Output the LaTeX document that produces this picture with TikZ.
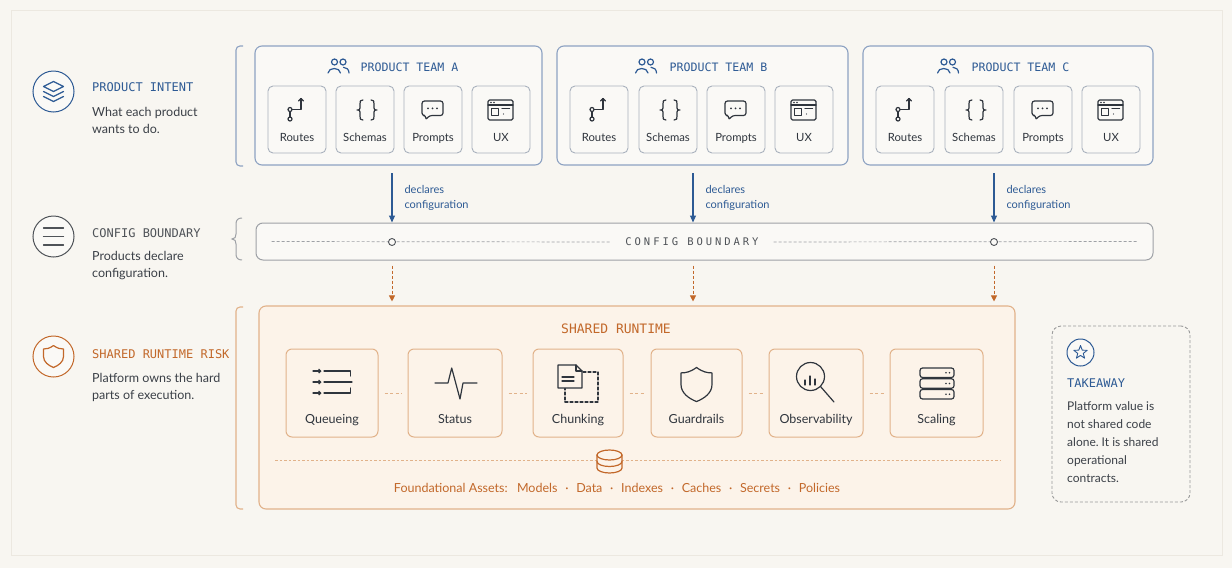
\documentclass[tikz,border=0pt]{standalone}
\usepackage{fontspec}
\setmainfont{Lato}
\newfontfamily\headfont{DejaVu Sans Mono}
\newfontfamily\spacedfont[LetterSpace=28]{DejaVu Sans Mono}
\usepackage{tikz}
\usetikzlibrary{positioning,arrows.meta,shapes.geometric}
\frenchspacing

\definecolor{paper}{HTML}{F8F6F1}
\definecolor{framegray}{HTML}{ECE8E0}
\definecolor{boxwhite}{HTML}{FAF9F6}
\definecolor{bluetext}{HTML}{2D5A94}
\definecolor{blueline}{HTML}{8DA2C2}
\definecolor{grayline}{HTML}{A9B1BD}
\definecolor{ink}{HTML}{2F353D}
\definecolor{bodytext}{HTML}{3B4047}
\definecolor{cfgtext}{HTML}{4F5358}
\definecolor{cfgline}{HTML}{9EA1A6}
\definecolor{orangetext}{HTML}{C2682A}
\definecolor{orangeline}{HTML}{E1B28A}
\definecolor{orangefill}{HTML}{FCF3E9}
\definecolor{dashgray}{HTML}{9A9A9A}

\tikzstyle{side_ring} = [circle, draw, line width=1pt, fill=boxwhite, minimum size=41pt, inner sep=0pt]
\tikzstyle{side_head} = [anchor=west, inner sep=0pt, font=\headfont\fontsize{12}{14}\selectfont]
\tikzstyle{side_body} = [anchor=north west, inner sep=0pt, align=left, text=bodytext, font=\fontsize{12.5}{17.5}\selectfont]
\tikzstyle{team_box} = [draw=blueline, line width=1.1pt, rounded corners=7pt, fill=boxwhite, minimum height=119pt, inner sep=0pt]
\tikzstyle{team_title} = [inner sep=0pt, text=bluetext, font=\headfont\fontsize{11.6}{14}\selectfont]
\tikzstyle{item_box} = [draw=grayline, line width=0.9pt, rounded corners=5pt, fill=boxwhite, minimum width=58pt, minimum height=67pt, inner sep=0pt]
\tikzstyle{item_label} = [inner sep=0pt, text height=8pt, text depth=0pt, text=ink, font=\fontsize{11.3}{13}\selectfont]
\tikzstyle{icon_line} = [draw=ink, line width=1.2pt, line cap=round, line join=round]
\tikzstyle{declare_arrow} = [draw=bluetext, line width=1.1pt, -{Triangle[length=7pt,width=6pt]}]
\tikzstyle{declare_label} = [right=12pt, inner sep=0pt, align=left, text=bluetext, font=\fontsize{11}{15}\selectfont]
\tikzstyle{boundary_box} = [draw=cfgline, line width=1pt, rounded corners=7pt, fill=boxwhite, minimum width=897pt, minimum height=37pt, inner sep=0pt]
\tikzstyle{boundary_title} = [inner sep=0pt, text=cfgtext, font=\spacedfont\fontsize{10.5}{12}\selectfont]
\tikzstyle{boundary_dash} = [draw=cfgline, line width=0.7pt, dash pattern=on 3pt off 2pt]
\tikzstyle{port} = [circle, draw=cfgtext, line width=0.9pt, fill=boxwhite, minimum size=7pt, inner sep=0pt]
\tikzstyle{runtime_arrow} = [draw=orangetext, line width=0.9pt, dash pattern=on 3pt off 2pt, shorten <=5pt, shorten >=4pt, -{Triangle[length=6pt,width=6pt]}]
\tikzstyle{runtime_box} = [draw=orangeline, line width=1.1pt, rounded corners=7pt, fill=orangefill, minimum width=756pt, minimum height=203pt, inner sep=0pt]
\tikzstyle{runtime_title} = [inner sep=0pt, text=orangetext, font=\headfont\fontsize{13}{15}\selectfont]
\tikzstyle{rt_item} = [draw=orangeline, line width=1pt, rounded corners=6pt, fill=orangefill, minimum height=88pt, inner sep=0pt]
\tikzstyle{rt_label} = [inner sep=0pt, text height=9pt, text depth=0pt, text=ink, font=\fontsize{12.5}{14}\selectfont]
\tikzstyle{rt_link} = [draw=orangeline, line width=0.9pt, dash pattern=on 3pt off 2.5pt, shorten <=6pt, shorten >=6pt]
\tikzstyle{asset_dash} = [draw=orangeline, line width=0.8pt, dash pattern=on 2.5pt off 2pt]
\tikzstyle{asset_text} = [inner sep=0pt, text=orangetext, font=\fontsize{12.5}{14}\selectfont]
\tikzstyle{takeaway_box} = [draw=dashgray, line width=0.9pt, dash pattern=on 3pt off 2pt, rounded corners=9pt, minimum width=138pt, minimum height=176pt, inner sep=0pt]

\begin{document}
\begin{tikzpicture}[x=1pt,y=-1pt]
		% icons, drawn round a centre point
		\def\iconlayers#1{\begin{scope}[shift={(#1)}]
			\draw[icon_line, draw=bluetext] (0,-10) -- (10,-5) -- (0,0) -- (-10,-5) -- cycle;
			\draw[icon_line, draw=bluetext] (-10,0) -- (0,5) -- (10,0);
			\draw[icon_line, draw=bluetext] (-10,5) -- (0,10) -- (10,5);
		\end{scope}}
		\def\iconmenu#1{\begin{scope}[shift={(#1)}]
			\draw[icon_line, draw=cfgtext] (-10,-8.5) -- (10,-8.5) (-10,0) -- (10,0) (-10,8.5) -- (10,8.5);
		\end{scope}}
		\def\iconshield#1#2#3{\begin{scope}[shift={(#1)}, scale=#2]
			\draw[icon_line, draw=#3] (0,-11) .. controls (4,-8) and (7,-7.5) .. (10,-7.5) -- (10,0) .. controls (10,5.5) and (5,9) .. (0,11) .. controls (-5,9) and (-10,5.5) .. (-10,0) -- (-10,-7.5) .. controls (-7,-7.5) and (-4,-8) .. (0,-11) -- cycle;
		\end{scope}}
		\def\iconpeople#1{\begin{scope}[shift={(#1)}]
			\draw[icon_line, draw=bluetext] (-4,-3.5) circle (3) (4.5,-3.5) circle (3);
			\draw[icon_line, draw=bluetext] (-10.5,7.5) .. controls (-10,1.5) and (1.5,1.5) .. (2,7.5);
			\draw[icon_line, draw=bluetext] (5,1.8) .. controls (8,1.8) and (10.5,4) .. (10.5,7.5);
		\end{scope}}
		\def\iconroutes#1{\begin{scope}[shift={(#1)}]
			\draw[icon_line] (-6,9.5) circle (2) (-6,0) circle (2);
			\draw[icon_line] (-6,2) -- (-6,7.5);
			\draw[icon_line] (-4,0) -- (5,0) -- (5,-11);
			\draw[icon_line] (2.5,-8.5) -- (5,-11) -- (7.5,-8.5);
		\end{scope}}
		\def\iconbraces#1{\begin{scope}[shift={(#1)}]
			\draw[icon_line] (-4,-10) .. controls (-7,-10) and (-7,-9) .. (-7,-6) -- (-7,-2) .. controls (-7,0) and (-8,0) .. (-10,0) .. controls (-8,0) and (-7,0) .. (-7,2) -- (-7,6) .. controls (-7,9) and (-7,10) .. (-4,10);
			\draw[icon_line] (4,-10) .. controls (7,-10) and (7,-9) .. (7,-6) -- (7,-2) .. controls (7,0) and (8,0) .. (10,0) .. controls (8,0) and (7,0) .. (7,2) -- (7,6) .. controls (7,9) and (7,10) .. (4,10);
		\end{scope}}
		\def\iconbubble#1{\begin{scope}[shift={(#1)}]
			\draw[icon_line, rounded corners=2.5pt] (-10.5,-9.5) -- (10.5,-9.5) -- (10.5,5) -- (-3,5) -- (-7,9.5) -- (-6.5,5) -- (-10.5,5) -- cycle;
			\fill[ink] (-4.5,-2.2) circle (1) (0,-2.2) circle (1) (4.5,-2.2) circle (1);
		\end{scope}}
		\def\iconwindow#1{\begin{scope}[shift={(#1)}]
			\draw[icon_line, rounded corners=1.5pt] (-12.5,-10) rectangle (12.5,10);
			\draw[icon_line] (-12.5,-5) -- (12.5,-5);
			\fill[ink] (-9.5,-7.5) circle (0.8) (-6.5,-7.5) circle (0.8);
			\draw[icon_line] (-9,-1.5) rectangle (-2,5.5);
			\draw[icon_line] (1.5,-1.5) -- (9,-1.5);
			\fill[ink] (3,4) circle (0.6);
		\end{scope}}
		\def\iconqueue#1{\begin{scope}[shift={(#1)}]
			\draw[icon_line, -{Straight Barb[length=2pt,width=4pt]}] (-19.5,-11) -- (-11,-11);
			\draw[icon_line, -{Straight Barb[length=2pt,width=4pt]}] (-19.5,0) -- (-11,0);
			\draw[icon_line, -{Straight Barb[length=2pt,width=4pt]}] (-19.5,11) -- (-11,11);
			\draw[icon_line] (-8.5,-11) -- (18,-11) -- (18,-6);
			\draw[icon_line] (-8.5,0) -- (19.5,0);
			\draw[icon_line] (-8.5,11) -- (18,11) -- (18,6);
		\end{scope}}
		\def\iconpulse#1{\begin{scope}[shift={(#1)}]
			\draw[icon_line] (-21,0) -- (-8,0) -- (-4.3,-15) -- (4,16) -- (7,0) -- (21,0);
		\end{scope}}
		\def\iconchunk#1{\begin{scope}[shift={(#1)}]
			\draw[icon_line, dash pattern=on 3pt off 2pt] (-13,-11.5) rectangle (20,18.5);
			\draw[icon_line, fill=orangefill] (-20,-18.5) -- (-2,-18.5) -- (4,-12.5) -- (4,4.5) -- (-20,4.5) -- cycle;
			\draw[icon_line] (-2,-18.5) -- (-2,-12.5) -- (4,-12.5);
			\draw[icon_line] (-16,-6.5) -- (-4,-6.5) (-16,-2.5) -- (-4,-2.5);
		\end{scope}}
		\def\iconlens#1{\begin{scope}[shift={(#1)}]
			\draw[icon_line] (-4.5,-5.5) circle (14);
			\draw[icon_line] (5.5,4.5) -- (19,20);
			\draw[icon_line] (-10,3) -- (-10,-2) (-5,3) -- (-5,-6) (0,3) -- (0,-3);
		\end{scope}}
		\def\iconservers#1{\begin{scope}[shift={(#1)}]
			\draw[icon_line, rounded corners=2.5pt] (-17,-15.5) rectangle (17,-6);
			\draw[icon_line, rounded corners=2.5pt] (-17,-4.75) rectangle (17,4.75);
			\draw[icon_line, rounded corners=2.5pt] (-17,6) rectangle (17,15.5);
			\fill[ink] (9,-10.7) circle (0.9) (12.5,-10.7) circle (0.9) (9,0) circle (0.9) (12.5,0) circle (0.9) (9,10.7) circle (0.9) (12.5,10.7) circle (0.9);
		\end{scope}}
		\def\icondb#1{\begin{scope}[shift={(#1)}]
			\draw[icon_line, draw=orangetext, fill=orangefill] (-12.5,-6.5) -- (-12.5,6.5) arc (180:0:12.5 and 5) -- (12.5,-6.5) arc (0:-180:12.5 and 5) -- cycle;
			\draw[icon_line, draw=orangetext] (-12.5,-6.5) arc (180:0:12.5 and 5);
			\draw[icon_line, draw=orangetext] (-12.5,0) arc (180:0:12.5 and 5);
		\end{scope}}
		\def\sep{\hspace{0.62em}·\hspace{0.62em}}

		\fill[paper] (0,0) rectangle (1232,568);
		\useasboundingbox (0,0) rectangle (1232,568);
		\draw[framegray, line width=0.6pt] (11,10) rectangle (1222,555);

		% left column
		\node (ringPI) at (53.5,91.5) [side_ring, draw=bluetext] {};
		\iconlayers{53.5,91.5}
		\node (headPI) at (92,87) [side_head, text=bluetext] {PRODUCT INTENT};
		\node (bodyPI) at (92,107) [side_body] {What each product\\wants to do.};
		\node (ringCB) at (53.5,236.5) [side_ring, draw=cfgtext] {};
		\iconmenu{53.5,236.5}
		\node (headCB) at (92,233) [side_head, text=cfgtext] {CONFIG BOUNDARY};
		\node (bodyCB) at (92,251) [side_body] {Products declare\\configuration.};
		\node (ringSR) at (53.5,356.5) [side_ring, draw=orangetext] {};
		\iconshield{53.5,356.5}{1}{orangetext}
		\node (headSR) at (92,354) [side_head, text=orangetext] {SHARED RUNTIME RISK};
		\node (bodySR) at (92,373) [side_body] {Platform owns the hard\\parts of execution.};

		\draw[blueline, line width=1.1pt, rounded corners=4pt] (243,46) -- (236,46) -- (236,166) -- (243,166);
		\draw[cfgline, line width=1pt] (242,218) .. controls (238,218) and (236,220) .. (236,224) -- (236,234) .. controls (236,237) and (235,239) .. (232,239) .. controls (235,239) and (236,241) .. (236,244) -- (236,254) .. controls (236,258) and (238,260) .. (242,260);
		\draw[orangeline, line width=1.1pt, rounded corners=4pt] (243,307) -- (236,307) -- (236,509) -- (243,509);

		% product teams
		\node (TeamA) at (398.5,105.5) [team_box, minimum width=287pt] {};
		\iconpeople{338.5,65.5}
		\node (TeamAtitle) at (409.5,67) [team_title] {PRODUCT TEAM A};
		\node (ARoutes) at (297,119.5) [item_box] {};
		\iconroutes{296,109.5}
		\node (ARoutesL) at (297,137.5) [item_label] {Routes};
		\node (ASchemas) at (365,119.5) [item_box] {};
		\iconbraces{367,110}
		\node (ASchemasL) at (365,137.5) [item_label] {Schemas};
		\node (APrompts) at (433,119.5) [item_box] {};
		\iconbubble{432.5,110.5}
		\node (APromptsL) at (433,137.5) [item_label] {Prompts};
		\node (AUX) at (501,119.5) [item_box] {};
		\iconwindow{500.5,110}
		\node (AUXL) at (501,137.5) [item_label] {UX};

		\node (TeamB) at (702.5,105.5) [team_box, minimum width=291pt] {};
		\iconpeople{646,65.5}
		\node (TeamBtitle) at (718.5,67) [team_title] {PRODUCT TEAM B};
		\node (BRoutes) at (599,119.5) [item_box] {};
		\iconroutes{598,109.5}
		\node (BRoutesL) at (599,137.5) [item_label] {Routes};
		\node (BSchemas) at (668,119.5) [item_box] {};
		\iconbraces{670,110}
		\node (BSchemasL) at (668,137.5) [item_label] {Schemas};
		\node (BPrompts) at (736,119.5) [item_box] {};
		\iconbubble{735.5,110.5}
		\node (BPromptsL) at (736,137.5) [item_label] {Prompts};
		\node (BUX) at (804,119.5) [item_box] {};
		\iconwindow{803.5,110}
		\node (BUXL) at (804,137.5) [item_label] {UX};

		\node (TeamC) at (1008,105.5) [team_box, minimum width=290pt] {};
		\iconpeople{948,65.5}
		\node (TeamCtitle) at (1020.5,67) [team_title] {PRODUCT TEAM C};
		\node (CRoutes) at (905,119.5) [item_box] {};
		\iconroutes{904,109.5}
		\node (CRoutesL) at (905,137.5) [item_label] {Routes};
		\node (CSchemas) at (974,119.5) [item_box] {};
		\iconbraces{976,110}
		\node (CSchemasL) at (974,137.5) [item_label] {Schemas};
		\node (CPrompts) at (1043,119.5) [item_box] {};
		\iconbubble{1042.5,110.5}
		\node (CPromptsL) at (1043,137.5) [item_label] {Prompts};
		\node (CUX) at (1111,119.5) [item_box] {};
		\iconwindow{1110.5,110}
		\node (CUXL) at (1111,137.5) [item_label] {UX};

		% config boundary
		\node (CB) at (704.5,241.5) [boundary_box] {};
		\node (CBtitle) at (692,242) [boundary_title] {CONFIG BOUNDARY};
		\draw[boundary_dash] ([xshift=16pt]CB.west) -- ([xshift=-15pt]CBtitle.west);
		\draw[boundary_dash] ([xshift=15pt]CBtitle.east) -- ([xshift=-16pt]CB.east);
		\node (portA) at (392,242) [port] {};
		\coordinate (portB) at (693,242);
		\node (portC) at (994,242) [port] {};

		\coordinate (srcA) at (392,173);
		\coordinate (srcB) at (693,173);
		\coordinate (srcC) at (994,173);
		\draw[declare_arrow] (srcA) -- node[declare_label] {declares\\configuration} (srcA |- CB.north);
		\draw[declare_arrow] (srcB) -- node[declare_label] {declares\\configuration} (srcB |- CB.north);
		\draw[declare_arrow] (srcC) -- node[declare_label] {declares\\configuration} (srcC |- CB.north);

		% shared runtime
		\node (SR) at (637,407.5) [runtime_box] {};
		\draw[runtime_arrow] (portA |- CB.south) -- (portA |- SR.north);
		\draw[runtime_arrow] (portB |- CB.south) -- (portB |- SR.north);
		\draw[runtime_arrow] (portC |- CB.south) -- (portC |- SR.north);
		\node (SRtitle) at (616,329) [runtime_title] {SHARED RUNTIME};

		\node (Queue) at (332,393) [rt_item, minimum width=92pt] {};
		\iconqueue{332.5,382}
		\node (QueueL) at (332,418.5) [rt_label] {Queueing};
		\node (Status) at (455,393) [rt_item, minimum width=94pt] {};
		\iconpulse{456,383}
		\node (StatusL) at (455,418.5) [rt_label] {Status};
		\node (Chunk) at (578,393) [rt_item, minimum width=90pt] {};
		\iconchunk{578,383.5}
		\node (ChunkL) at (578,418.5) [rt_label] {Chunking};
		\node (Guard) at (696.5,393) [rt_item, minimum width=91pt] {};
		\iconshield{696.5,384.5}{1.55}{ink}
		\node (GuardL) at (696.5,418.5) [rt_label] {Guardrails};
		\node (Observe) at (816,393) [rt_item, minimum width=94pt] {};
		\iconlens{815,382}
		\node (ObserveL) at (816,418.5) [rt_label] {Observability};
		\node (Scale) at (936.5,393) [rt_item, minimum width=93pt] {};
		\iconservers{937,383.5}
		\node (ScaleL) at (936.5,418.5) [rt_label] {Scaling};

		\draw[rt_link] (Queue) -- (Status);
		\draw[rt_link] (Status) -- (Chunk);
		\draw[rt_link] (Chunk) -- (Guard);
		\draw[rt_link] (Guard) -- (Observe);
		\draw[rt_link] (Observe) -- (Scale);

		\coordinate (assetL) at (275,460);
		\coordinate (assetR) at (1000,460);
		\draw[asset_dash] (assetL) -- (assetR);
		\icondb{609.5,461.5}
		\node (assets) at (617,488) [asset_text] {Foundational Assets:\hspace{0.75em}Models\sep Data\sep Indexes\sep Caches\sep Secrets\sep Policies};

		% takeaway
		\node (TK) at (1121,414) [takeaway_box] {};
		\node (TKring) at (1080.5,352.5) [circle, draw=bluetext, line width=1pt, fill=boxwhite, minimum size=27pt, inner sep=0pt] {};
		\node (TKstar) at (TKring) [star, star points=5, star point ratio=2.4, draw=bluetext, line width=0.9pt, line join=round, minimum size=14pt, inner sep=0pt] {};
		\node (TKhead) at (1067,383) [side_head, text=bluetext] {TAKEAWAY};
		\node (TKbody) at (1067,401) [side_body, font=\fontsize{12}{18.2}\selectfont] {Platform value is\\not shared code\\alone. It is shared\\operational\\contracts.};
\end{tikzpicture}
\end{document}
